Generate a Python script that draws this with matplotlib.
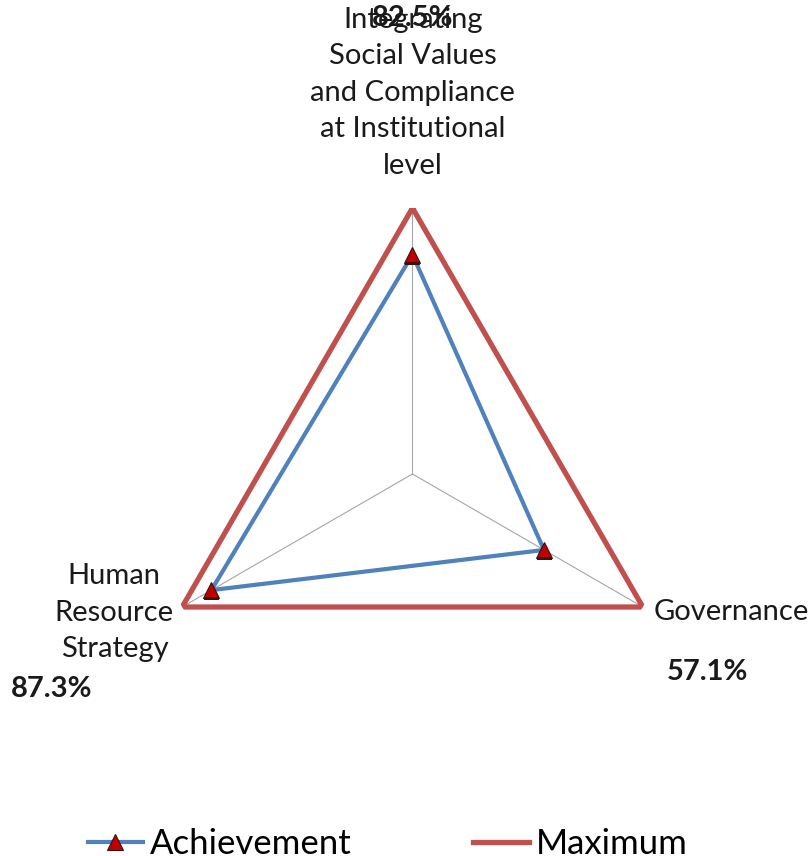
import numpy as np
import matplotlib.pyplot as plt
from matplotlib.lines import Line2D

# categories clockwise from the top
categories = ["Integrating\nSocial Values\nand Compliance\nat Institutional\nlevel",
              "Governance",
              "Human\nResource\nStrategy"]
achievement = [0.825, 0.571, 0.873]
maximum = [1.0, 1.0, 1.0]
pct_labels = ["82.5%", "57.1%", "87.3%"]

plt.rcParams['font.family'] = ['Lato', 'DejaVu Sans']

blue = "#4F81BD"
red = "#C0504D"

fig = plt.figure(figsize=(8.11, 8.56), dpi=100)
ax = fig.add_axes([0.1806, 0.1355, 0.656, 0.6215], projection='polar')
ax.set_theta_offset(np.pi / 2)
ax.set_theta_direction(-1)

n = len(categories)
angles = np.arange(n) * 2 * np.pi / n
closed = np.append(angles, angles[0])

# spokes
for a in angles:
    ax.plot([a, a], [0, 1], color="#a6a6a6", lw=0.8, zorder=1)

ax.plot(closed, maximum + maximum[:1], color=red, lw=3.8, zorder=2,
        solid_joinstyle='miter')
ax.plot(closed, achievement + achievement[:1], color=blue, lw=3.0, zorder=3,
        solid_joinstyle='miter')
ax.plot(angles, achievement, ls='none', marker='^', ms=11, mfc="#C00000",
        mec="#3a1010", mew=0.8, zorder=4)

ax.set_ylim(0, 1)
ax.set_xticks([])
ax.set_yticks([])
ax.grid(False)
ax.spines['polar'].set_visible(False)
ax.patch.set_alpha(0)

# category labels
fs = 21
fig.text(0.509, 0.992, categories[0], ha='center', va='top', fontsize=fs,
         linespacing=1.5, color="#1a1a1a")
fig.text(0.806, 0.285, categories[1], ha='left', va='center', fontsize=fs,
         color="#1a1a1a")
fig.text(0.141, 0.284, categories[2], ha='center', va='center', fontsize=fs,
         linespacing=1.5, color="#1a1a1a")

# value labels
fig.text(0.509, 0.979, pct_labels[0], ha='center', va='center', fontsize=21,
         fontweight='bold', color="#1a1a1a")
fig.text(0.872, 0.215, pct_labels[1], ha='center', va='center', fontsize=21,
         fontweight='bold', color="#1a1a1a")
fig.text(0.064, 0.195, pct_labels[2], ha='center', va='center', fontsize=21,
         fontweight='bold', color="#1a1a1a")

handles = [Line2D([], [], color=blue, lw=3.0, marker='^', ms=11,
                  mfc="#C00000", mec="#3a1010", mew=0.8),
           Line2D([], [], color=red, lw=3.8)]
fig.legend(handles, ["Achievement", "Maximum"], loc='center',
           bbox_to_anchor=(0.478, 0.014), ncol=2, frameon=False,
           fontsize=25, handlelength=1.6, handletextpad=0.2,
           columnspacing=3.5)

fig.savefig("out.png", dpi=100)
